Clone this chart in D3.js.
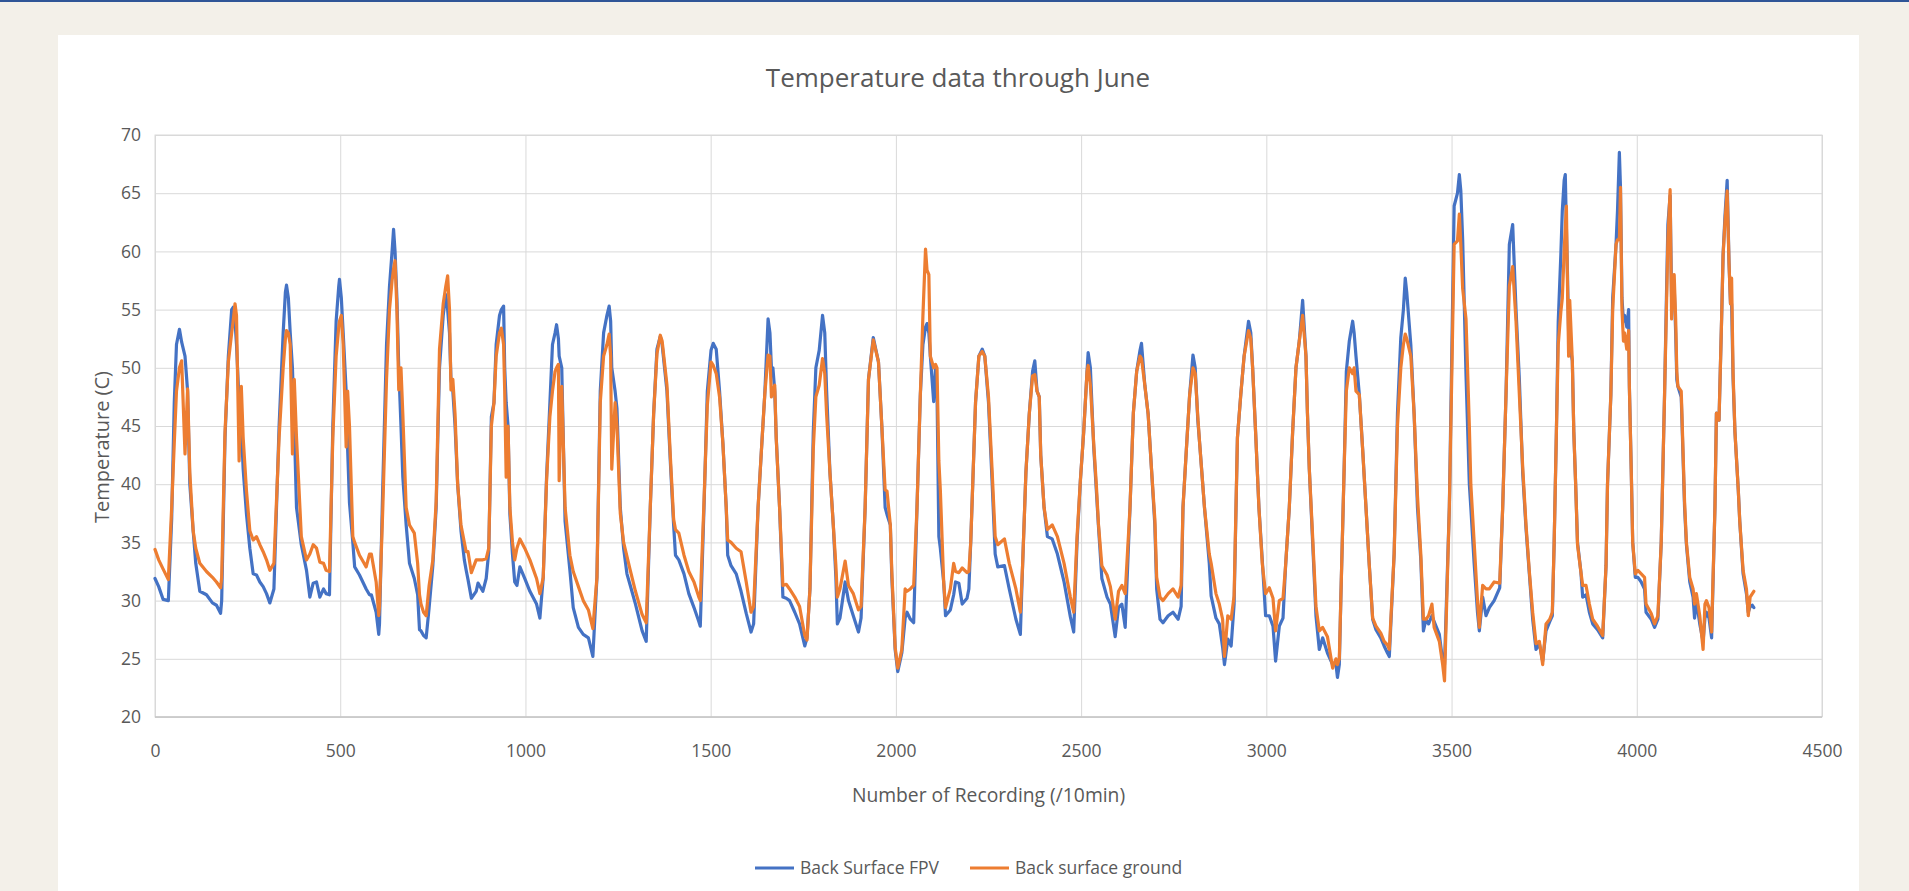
<!DOCTYPE html>
<html>
<head>
<meta charset="utf-8">
<script src="https://cdn.jsdelivr.net/npm/d3@7"></script>
<style>
  body { margin: 0; background: #f3f0e9; overflow: hidden; }
  text { font-family: "Open Sans", sans-serif; fill: #595959; }
</style>
</head>
<body>
<div id="chart"></div>
<script>
// Data (one line per day)
var recording = [
  0, 10, 22, 36, 45, 52, 58, 66, 72, 81, 88, 94, 103, 110, 121, 139, 155, 166, 177,
  180, 189, 198, 207, 211, 216, 220, 227, 233, 238, 247, 256, 265, 274, 283, 292, 301, 310, 321,
  335, 346, 352, 355, 360, 365, 371, 376, 382, 395, 409, 418, 427, 436, 445, 455, 462, 471,
  480, 489, 496, 498, 503, 508, 516, 520, 525, 534, 539, 552, 561, 570, 579, 584, 597, 604,
  606, 615, 625, 633, 640, 644, 648, 653, 658, 664, 669, 678, 687, 700, 709, 714, 718, 725, 732,
  740, 750, 759, 768, 778, 785, 790, 795, 799, 804, 810, 817, 826, 835, 840, 845, 854, 867, 872, 885, 894, 901,
  908, 915, 921, 930, 935, 941, 944, 948, 953, 958, 965, 971, 977, 985, 998, 1012, 1030, 1039,
  1048, 1057, 1066, 1073, 1080, 1084, 1089, 1091, 1098, 1107, 1120, 1129, 1143, 1156, 1170, 1182,
  1193, 1202, 1211, 1220, 1226, 1230, 1233, 1242, 1247, 1256, 1265, 1274, 1283, 1297, 1315, 1326,
  1337, 1346, 1355, 1364, 1369, 1382, 1391, 1400, 1405, 1414, 1428, 1441, 1455, 1468, 1472,
  1482, 1491, 1501, 1507, 1515, 1524, 1533, 1542, 1546, 1555, 1569, 1582, 1596, 1609, 1616,
  1628, 1637, 1646, 1655, 1660, 1664, 1668, 1673, 1677, 1686, 1695, 1704, 1713, 1727, 1740, 1754, 1760,
  1768, 1777, 1784, 1793, 1802, 1808, 1813, 1822, 1831, 1838, 1842, 1849, 1863, 1872, 1885, 1899, 1906,
  1917, 1926, 1939, 1953, 1962, 1971, 1976, 1985, 1989, 1998, 2005, 2016, 2025, 2030, 2039, 2048,
  2057, 2066, 2073, 2080, 2084, 2089, 2093, 2102, 2107, 2111, 2116, 2120, 2129, 2134, 2147, 2156, 2161, 2170, 2179, 2192, 2197,
  2202, 2215, 2224, 2233, 2240, 2250, 2260, 2268, 2275, 2293, 2306, 2324, 2336,
  2342, 2351, 2360, 2369, 2375, 2381, 2387, 2391, 2400, 2409, 2422, 2436, 2454, 2471, 2480,
  2489, 2498, 2507, 2516, 2519, 2525, 2534, 2541, 2547, 2556, 2570, 2579, 2592, 2601, 2610, 2619,
  2632, 2641, 2650, 2659, 2663, 2672, 2681, 2690, 2699, 2704, 2713, 2721, 2735, 2748, 2762, 2770,
  2775, 2784, 2793, 2802, 2808, 2815, 2820, 2833, 2846, 2851, 2864, 2873, 2882, 2887, 2896, 2905, 2913,
  2922, 2931, 2940, 2952, 2958, 2963, 2971, 2980, 2989, 2998, 3008, 3018, 3025, 3035, 3045, 3052,
  3062, 3071, 3080, 3089, 3098, 3107, 3111, 3116, 3125, 3134, 3143, 3152, 3165, 3179, 3188, 3192, 3197,
  3201, 3210, 3216, 3224, 3233, 3237, 3242, 3251, 3260, 3269, 3278, 3287, 3296, 3309, 3318, 3327, 3332,
  3345, 3354, 3363, 3370, 3375, 3379, 3390, 3399, 3408, 3417, 3424, 3431, 3438, 3447, 3453, 3467, 3476, 3481,
  3494, 3501, 3507, 3516, 3521, 3525, 3530, 3539, 3548, 3552, 3561, 3570, 3575, 3584, 3593, 3602, 3615, 3630,
  3638, 3647, 3656, 3665, 3674, 3683, 3692, 3701, 3710, 3719, 3728, 3737, 3746, 3755, 3765, 3772,
  3777, 3783, 3788, 3795, 3799, 3804, 3807, 3810, 3813, 3816, 3819, 3826, 3830, 3835, 3840, 3849, 3854, 3863, 3872, 3881, 3894, 3908,
  3917, 3921, 3930, 3935, 3944, 3948, 3953, 3956, 3960, 3964, 3967, 3973, 3978, 3980, 3985, 3989, 3996, 4003, 4012, 4021, 4025, 4039, 4048, 4057,
  4066, 4075, 4080, 4084, 4090, 4094, 4098, 4101, 4105, 4108, 4111, 4120, 4129, 4134, 4143, 4152, 4156, 4161, 4170, 4179, 4184, 4188, 4195, 4202,
  4211, 4215, 4222, 4229, 4233, 4238, 4244, 4249, 4253, 4256, 4260, 4265, 4274, 4278, 4287, 4296, 4301, 4306, 4312, 4316
];

var fpv = [
  31.9, 31.2, 30.1, 30.0, 37, 47, 52, 53.3, 52.2, 51, 48, 40, 36, 33.2, 30.8, 30.5, 29.8, 29.6, 28.9,
  30, 44, 51, 55, 55.2, 54, 52, 47, 45, 41.3, 37.4, 34.5, 32.3, 32.2, 31.6, 31.2, 30.6, 29.8, 31,
  45, 53, 56.5, 57.1, 56, 53, 50, 45, 38, 34.8, 32.6, 30.3, 31.5, 31.6, 30.3, 31, 30.6, 30.5,
  45, 54, 57, 57.6, 56, 53, 48, 43, 38.4, 35, 32.9, 32.2, 31.6, 31, 30.5, 30.5, 29, 27.1,
  28, 40, 52, 57, 60, 61.9, 60, 56, 50, 45, 40.6, 36.5, 33.2, 31.9, 30.5, 27.5, 27.4, 27, 26.8,
  29.4, 33, 38, 50, 54.5, 56.3, 55, 53, 49, 48, 45, 40, 36, 33.5, 32.6, 31.8, 30.2, 30.8, 31.5, 30.8, 31.9, 34.2,
  45.8, 47, 52, 54.5, 55, 55.3, 50, 47, 45, 37.4, 34, 31.6, 31.3, 32.9, 31.9, 30.8, 29.7, 28.5,
  32, 40.6, 47, 52, 53, 53.7, 52.5, 51, 50, 36.8, 32.6, 29.4, 27.7, 27.1, 26.8, 25.2,
  32, 48, 53, 54.5, 55.3, 54, 50, 48, 46.5, 38, 34.5, 32.3, 31.3, 29.7, 27.4, 26.5,
  38, 46, 51.6, 52.7, 52, 48, 42, 36.5, 33.9, 33.5, 32.3, 30.6, 29.4, 28.2, 27.8,
  38, 48, 51.5, 52.1, 51.6, 48, 43.5, 38, 33.9, 33, 32.3, 30.8, 28.9, 27.3, 28,
  38, 42.9, 47.7, 54.2, 53, 50, 50, 48, 44, 38, 30.3, 30.2, 30, 29, 28, 26.1, 26.8,
  31, 44.5, 50, 51.5, 54.5, 53, 48, 41, 36.5, 32, 28, 28.5, 31.6, 30, 28.7, 27.3, 28.5,
  38, 49, 52.6, 50.5, 45, 38, 37.4, 36.5, 32, 25.8, 23.9, 25.5, 28.5, 29, 28.4, 28.1,
  38, 47.7, 52, 53.5, 53.8, 53, 51, 47.1, 50, 48, 35.5, 34.5, 31.6, 28.7, 29.2, 30.5, 31.6, 31.5, 29.7, 30.2, 31,
  35, 47, 51, 51.6, 51, 47, 40, 34, 32.9, 33, 31, 28.4, 27.1,
  33, 41, 46, 49.7, 50.6, 48, 47.5, 42.5, 38, 35.5, 35.3, 34, 31.6, 28.6, 27.3,
  35, 40.3, 44.5, 49.7, 51.3, 50, 43.2, 39.5, 36.3, 31.9, 30.3, 29.7, 26.9, 29.4, 29.7, 27.7,
  38, 46.1, 49.7, 51.5, 52.1, 48.5, 46, 41.3, 36.5, 31, 28.4, 28.1, 28.7, 29, 28.4, 29.5,
  38, 42.9, 47.7, 51.1, 50, 45.5, 43.5, 38, 33.2, 30.4, 28.5, 28, 26, 24.5, 26.7, 26.1, 29.7,
  44, 47.7, 51, 54, 53, 50, 44.5, 38, 33.5, 28.7, 28.7, 27.8, 24.8, 27.8, 28.5, 33,
  38, 44.5, 50, 52.3, 55.8, 51, 46.1, 41.3, 35, 28.7, 25.8, 26.8, 25.5, 24.5, 24.5, 23.4, 24.5,
  30, 41.3, 49.7, 52.3, 54, 53, 51, 47.7, 43, 38, 33, 28.4, 27.5, 26.8, 26.1, 25.5, 25.2,
  34, 46.1, 52.6, 55, 57.7, 56.5, 52, 46, 38, 33.5, 27.4, 28.4, 28, 28.7, 28.2, 27.1, 24.8, 24.5,
  38, 52, 63.9, 65, 66.6, 65.2, 61, 49.4, 40, 38, 33.2, 29, 27.4, 30.3, 28.7, 29.4, 30, 31.1,
  38, 47.7, 60.6, 62.3, 55, 49, 41, 36.2, 32.3, 28.4, 25.8, 26.3, 24.8, 27.4, 28.2, 28.7,
  35, 44.5, 54, 59.7, 63.5, 66.1, 66.6, 62, 58, 53, 52, 50.6, 44.5, 40, 35, 32.5, 30.3, 30.5, 29, 28, 27.5, 26.8,
  33, 40, 47.7, 56, 60.6, 63.5, 68.5, 65.5, 56, 54, 54.5, 53.5, 55, 48.4, 41.3, 35, 32, 32, 31.6, 31, 29, 28.4, 27.7, 28.4,
  35, 47.7, 56, 62.3, 64.8, 56, 56.5, 57, 53, 49, 48.4, 47.5, 38, 34.8, 31.6, 30.3, 28.5, 30, 28, 26.5, 28.5, 29, 28.5, 26.8,
  38, 46.1, 45.5, 54.2, 59.7, 63, 66.1, 59, 55.5, 55.5, 49, 44.5, 39.5, 36.8, 32.3, 30.6, 29, 29.5, 29.6, 29.4
];

var ground = [
  34.4, 33.5, 32.7, 31.8, 38, 43.5, 48, 50, 50.6, 42.6, 48.2, 41, 36, 34.5, 33.2, 32.5, 32.0, 31.6, 31.1,
  32, 44.5, 50.5, 53, 54, 55.5, 54.5, 42, 48.4, 44, 39.4, 36, 35.2, 35.5, 34.8, 34.2, 33.5, 32.6, 33.2,
  44, 50, 52.5, 53.2, 53, 52, 42.6, 49, 44, 35.5, 33.5, 34.0, 34.8, 34.5, 33.3, 33.2, 32.6, 32.5,
  44, 51, 53.5, 54, 54.5, 52, 43.2, 48, 45, 35.5, 35, 33.9, 33.4, 32.9, 34, 34, 31.6, 28.7,
  29.5, 38, 49, 55, 57.5, 58.5, 59.2, 55, 48.1, 50, 46, 38, 36.5, 35.8, 33.2, 30.5, 29.7, 29, 28.7,
  31.3, 33.5, 38.5, 51.6, 55.5, 57, 57.9, 55, 48.1, 49, 46, 40, 36.5, 35, 34.2, 34.2, 32.4, 33.5, 33.5, 33.5, 33.6, 34.5,
  45, 47, 51, 53, 53.4, 52, 48, 40.6, 45, 38, 35, 33.5, 34.5, 35.3, 34.5, 33.5, 31.9, 30.6,
  32, 40.3, 45.8, 48, 49.7, 50, 50.3, 40.3, 48.4, 38, 33.9, 32.5, 31.2, 30, 29.2, 27.6,
  32, 47, 51, 52, 52.9, 51, 41.3, 47, 45, 37.5, 35, 33.8, 32.6, 30.8, 28.8, 28.1,
  38, 46, 51.2, 52.8, 52.3, 48.5, 42.5, 37, 36.1, 35.8, 33.9, 32.5, 31.6, 30.3, 30,
  38.5, 46.8, 50.5, 50.2, 49.5, 47.5, 43.5, 38, 35.2, 35, 34.5, 34.2, 31.6, 29, 29.5,
  38, 42.9, 47.7, 51.1, 51, 47.5, 48, 48.5, 43.9, 38, 31.3, 31.4, 31.0, 30.3, 29.5, 27, 26.6,
  31, 43, 47.5, 48.5, 50.8, 49.5, 46, 41, 36.5, 33, 30.3, 31, 33.4, 31.3, 30.6, 29.2, 29.5,
  38, 49, 52.4, 50.5, 45, 39.5, 39.4, 36.5, 32.5, 26, 24.2, 25.8, 31, 30.8, 31, 31.3,
  38, 47.7, 54.5, 60.2, 58.4, 58, 51, 50, 50.3, 50, 42, 39.5, 31.6, 29.4, 31, 33.2, 32.5, 32.4, 32.8, 32.4, 32.5,
  35, 47, 51, 51.4, 51, 47.5, 41, 35.5, 34.8, 35.3, 33.2, 31, 29,
  33, 41, 46, 49.3, 49.4, 48, 47.5, 42.5, 38, 36.1, 36.5, 35.5, 33.2, 30.3, 29,
  35.5, 40.3, 44.5, 49.7, 50.2, 48.5, 43.5, 40, 36.5, 33, 32.2, 31.2, 28.4, 30.8, 31.3, 30.6,
  38, 46.1, 49.7, 51, 50.8, 48.5, 46, 41.3, 37, 32, 30.3, 30, 30.6, 31, 30.3, 31.3,
  38, 42.9, 47.7, 50, 49.5, 45.8, 43.5, 38, 34, 33.2, 30.6, 29.7, 28.4, 25.2, 28.7, 28.4, 30.4,
  44, 47.7, 51, 53.2, 52.5, 50, 44.5, 38, 33.2, 30.6, 31.1, 30.2, 27.4, 30, 30.2, 33,
  38, 44.5, 50, 52.3, 54.5, 51, 46.1, 41.3, 35.5, 29.5, 27.4, 27.7, 26.9, 24.2, 25, 24.5, 25,
  30, 41.3, 48, 50, 49.5, 50, 48, 47.7, 43, 38, 33, 28.5, 27.8, 27.2, 26.5, 26.2, 25.8,
  34, 45, 50, 52, 52.9, 52.5, 51, 46, 39, 34, 28.4, 28.4, 28.7, 29.7, 27.7, 26.5, 24.5, 23.1,
  38, 50, 60.6, 60.9, 63.2, 60.6, 56.8, 54.2, 45, 40, 35, 30, 27.7, 31.3, 31, 31, 31.6, 31.5,
  38, 47.7, 57, 58.7, 54, 47.7, 41.5, 36.5, 32.5, 29, 26.3, 26.5, 24.5, 28, 28.4, 29,
  35, 44.5, 52, 54.8, 56, 60, 62, 63.9, 57, 51, 55.8, 50.6, 44.5, 40, 34.8, 32.5, 31.3, 31.3, 29.7, 28.4, 27.8, 27,
  33, 40, 47.7, 55, 60.6, 61, 61, 65.5, 55, 52.3, 53, 51.6, 53.2, 48.4, 41.3, 35, 32.3, 32.6, 32.3, 32, 29.7, 28.9, 28, 28.7,
  35, 47.7, 55, 61, 65.3, 54.2, 56.8, 58, 54.2, 49.7, 48.4, 48, 38.5, 35, 32, 31, 29.7, 30.6, 28.7, 25.8, 29.7, 30, 29.4, 27.3,
  38, 46.1, 45.5, 54.2, 59.7, 62.5, 65.2, 59, 55.5, 57.7, 49.5, 44.5, 39.5, 36.8, 32.6, 31, 28.7, 30.3, 30.6, 30.8
];

var xTicks = [0, 500, 1000, 1500, 2000, 2500, 3000, 3500, 4000, 4500];
var yTicks = [20, 25, 30, 35, 40, 45, 50, 55, 60, 65, 70];
var seriesNames = ["Back Surface FPV", "Back surface ground"];
var seriesColors = ["#4472c4", "#ed7d31"];

var w = 1909;
var h = 891;
var plot = { left: 155, right: 1822, top: 135, bottom: 717 };

var svg = d3.select("#chart").append("svg")
    .attr("width", w)
    .attr("height", h);

// page frame
svg.append("rect").attr("x", 0).attr("y", 0).attr("width", w).attr("height", 2).attr("fill", "#2f5597");
svg.append("rect").attr("x", 58).attr("y", 35).attr("width", 1801).attr("height", h - 35).attr("fill", "#ffffff");

var x = d3.scaleLinear().domain([0, 4500]).range([plot.left, plot.right]);
var y = d3.scaleLinear().domain([20, 70]).range([plot.bottom, plot.top]);

// Axes + gridlines
var xAxis = svg.append("g")
    .attr("transform", "translate(0," + plot.bottom + ")")
    .call(d3.axisBottom(x).tickValues(xTicks).tickFormat(d3.format("d"))
        .tickSize(-(plot.bottom - plot.top)).tickPadding(27.5));

var yAxis = svg.append("g")
    .attr("transform", "translate(" + plot.left + ",0)")
    .call(d3.axisLeft(y).tickValues(yTicks).tickFormat(d3.format("d"))
        .tickSize(-(plot.right - plot.left)).tickPadding(14));

[xAxis, yAxis].forEach(function (a) {
    a.select(".domain").remove();
    a.selectAll("line").attr("stroke", "#d9d9d9").attr("stroke-width", 1);
    a.selectAll("text").attr("fill", "#595959").style("font-size", "17.5px");
});

// plot border and base line
svg.append("rect")
    .attr("x", plot.left).attr("y", plot.top)
    .attr("width", plot.right - plot.left).attr("height", plot.bottom - plot.top)
    .attr("fill", "none").attr("stroke", "#d9d9d9").attr("stroke-width", 1);
svg.append("line")
    .attr("x1", plot.left).attr("x2", plot.right)
    .attr("y1", plot.bottom).attr("y2", plot.bottom)
    .attr("stroke", "#c6c6c6").attr("stroke-width", 1.5);

// Lines
var line = d3.line()
    .x(function (d, i) { return x(recording[i]); })
    .y(function (d) { return y(d); });

[fpv, ground].forEach(function (s, k) {
    svg.append("path")
        .datum(s)
        .attr("fill", "none")
        .attr("stroke", seriesColors[k])
        .attr("stroke-width", 3.2)
        .attr("stroke-linejoin", "round")
        .attr("stroke-linecap", "round")
        .attr("d", line);
});

// Titles
svg.append("text")
    .attr("x", 958).attr("y", 87)
    .attr("text-anchor", "middle")
    .style("font-size", "26px")
    .text("Temperature data through June");

svg.append("text")
    .attr("x", (plot.left + plot.right) / 2).attr("y", 802)
    .attr("text-anchor", "middle")
    .style("font-size", "19.3px")
    .text("Number of Recording (/10min)");

svg.append("text")
    .attr("transform", "translate(109,447) rotate(-90)")
    .attr("text-anchor", "middle")
    .style("font-size", "20px")
    .text("Temperature (C)");

// Legend
var legendX = [755, 970];
var legend = svg.selectAll("g.legend")
    .data(seriesNames)
    .enter()
    .append("g")
    .attr("class", "legend")
    .attr("transform", function (d, i) { return "translate(" + legendX[i] + ",868)"; });

legend.append("line")
    .attr("x1", 0).attr("x2", 39)
    .attr("y1", 0).attr("y2", 0)
    .attr("stroke", function (d, i) { return seriesColors[i]; })
    .attr("stroke-width", 3.2);

legend.append("text")
    .attr("x", 45).attr("y", 6)
    .style("font-size", "17.5px")
    .text(function (d) { return d; });
</script>
</body>
</html>
